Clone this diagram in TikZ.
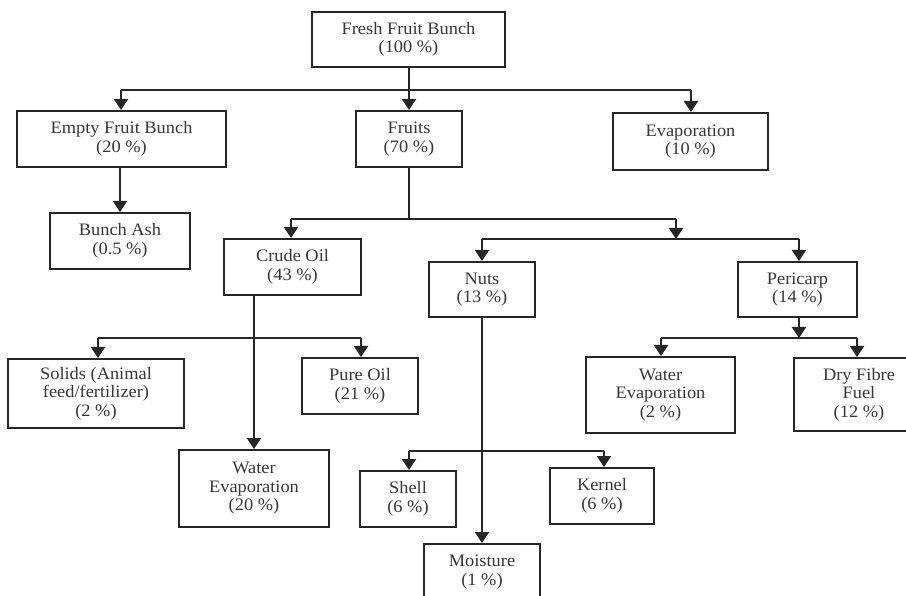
\documentclass[tikz,border=0pt]{standalone}
\usepackage{fontspec}
\setmainfont{Liberation Serif}[FakeStretch=1.05]
\usetikzlibrary{arrows.meta}
\begin{document}
\begin{tikzpicture}[x=1pt,y=-1pt,
  box/.style={draw=black!85, line width=2pt, inner sep=0pt, align=center,
    text=black!78, font=\fontsize{17.5}{18.5}\selectfont},
  link/.style={draw=black!85, line width=2pt},
  arr/.style={link, -{Triangle[width=14pt,length=11pt]}}]
\clip (0,0) rectangle (906,596);
\fill[white] (0,0) rectangle (906,596);
% boxes
\node[box, minimum width=193pt, minimum height=55pt] (ffb) at (408.5,39.5) {Fresh Fruit Bunch\\(100 \%)};
\node[box, minimum width=209pt, minimum height=56pt] (efb) at (121.5,139) {Empty Fruit Bunch\\(20 \%)};
\node[box, minimum width=106pt, minimum height=56pt] (fruits) at (409,139) {Fruits\\(70 \%)};
\node[box, minimum width=155pt, minimum height=57pt] (evap) at (690.5,141.5) {Evaporation\\(10 \%)};
\node[box, minimum width=140pt, minimum height=56pt] (ash) at (120,241) {Bunch Ash\\(0.5 \%)};
\node[box, minimum width=137pt, minimum height=56pt] (crude) at (292.5,267) {Crude Oil\\(43 \%)};
\node[box, minimum width=106pt, minimum height=55pt] (nuts) at (482,289.5) {Nuts\\(13 \%)};
\node[box, minimum width=119pt, minimum height=55pt] (peri) at (797.5,289.5) {Pericarp\\(14 \%)};
\node[box, minimum width=176pt, minimum height=69pt] (solids) at (96,393.5) {Solids (Animal\\feed/fertilizer)\\(2 \%)};
\node[box, minimum width=116pt, minimum height=56pt] (pure) at (360,386) {Pure Oil\\(21 \%)};
\node[box, minimum width=150pt, minimum height=77pt] (wev1) at (254,488.5) {Water\\Evaporation\\(20 \%)};
\node[box, minimum width=149pt, minimum height=76pt] (wev2) at (660.5,395) {Water\\Evaporation\\(2 \%)};
\node[box, minimum width=130pt, minimum height=73pt] (dff) at (859,394.5) {Dry Fibre\\Fuel\\(12 \%)};
\node[box, minimum width=96pt, minimum height=56pt] (shell) at (408,499) {Shell\\(6 \%)};
\node[box, minimum width=104pt, minimum height=56pt] (kernel) at (602,496) {Kernel\\(6 \%)};
\node[box, minimum width=116pt, minimum height=56pt] (moist) at (482,572) {Moisture\\(1 \%)};
% junctions
\coordinate (j1) at (409,90);
\coordinate (j1l) at (121,90);
\coordinate (j1r) at (691,90);
\coordinate (j2) at (409,219);
\coordinate (j2l) at (291,219);
\coordinate (j2r) at (676,219);
\coordinate (j3) at (676,239);
\coordinate (j3l) at (482,239);
\coordinate (j3r) at (799,239);
\coordinate (c1l) at (98,338);
\coordinate (c1r) at (361,338);
\coordinate (n1l) at (409,451);
\coordinate (n1r) at (604,451);
\coordinate (p1) at (799,338);
\coordinate (p1l) at (661,338);
\coordinate (p1r) at (857,338);
% connectors
\draw[link] (ffb.south -| j1) -- (j1);
\draw[link] (j1l) -- (j1r);
\draw[arr] (j1l) -- (j1l |- efb.north);
\draw[arr] (j1) -- (fruits.north);
\draw[arr] (j1r) -- (j1r |- evap.north);
\draw[arr] (efb.south -| ash.north) -- (ash.north);
\draw[link] (fruits.south) -- (j2);
\draw[link] (j2l) -- (j2r);
\draw[arr] (j2l) -- (j2l |- crude.north);
\draw[arr] (j2r) -- (j3);
\draw[link] (j3l) -- (j3r);
\draw[arr] (j3l) -- (nuts.north);
\draw[arr] (j3r) -- (j3r |- peri.north);
\draw[arr] (crude.south -| wev1.north) -- (wev1.north);
\draw[link] (c1l) -- (c1r);
\draw[arr] (c1l) -- (c1l |- solids.north);
\draw[arr] (c1r) -- (c1r |- pure.north);
\draw[arr] (nuts.south) -- (moist.north);
\draw[link] (n1l) -- (n1r);
\draw[arr] (n1l) -- (n1l |- shell.north);
\draw[arr] (n1r) -- (n1r |- kernel.north);
\draw[arr] (p1 |- peri.south) -- (p1);
\draw[link] (p1l) -- (p1r);
\draw[arr] (p1l) -- (p1l |- wev2.north);
\draw[arr] (p1r) -- (p1r |- dff.north);
\end{tikzpicture}
\end{document}
